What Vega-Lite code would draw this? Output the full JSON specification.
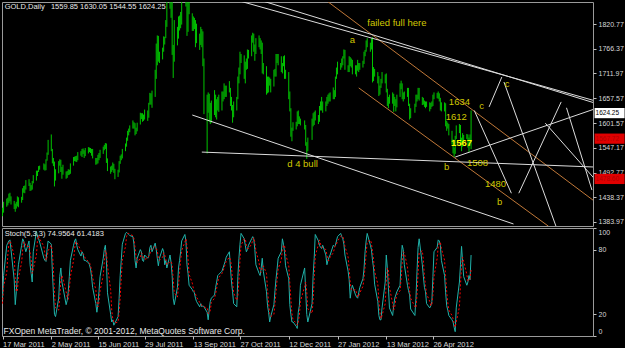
{
"$schema":"https://vega.github.io/schema/vega-lite/v6.json",
"background":"#000000",
"padding":{"left":0,"top":1,"right":0,"bottom":0},
"config":{"view":{"stroke":"#9a9a9a","strokeWidth":1},"concat":{"spacing":0},"font":"Liberation Sans","text":{"font":"Liberation Sans"},"axis":{"labelFont":"Liberation Sans","labelOverlap":false}},
"datasets":{
"gold":[
{"t":"2011-03-17","l":1396,"h":1415,"k":36,"s":30},
{"t":"2011-03-18","l":1404,"h":1428,"k":56,"s":46},
{"t":"2011-03-21","l":1417,"h":1435,"k":84,"s":59},
{"t":"2011-03-22","l":1420,"h":1437,"k":86,"s":75},
{"t":"2011-03-23","l":1425,"h":1446,"k":88,"s":86},
{"t":"2011-03-24","l":1429,"h":1448,"k":89,"s":88},
{"t":"2011-03-25","l":1422,"h":1440,"k":80,"s":86},
{"t":"2011-03-28","l":1412,"h":1430,"k":52,"s":74},
{"t":"2011-03-29","l":1406,"h":1424,"k":29,"s":54},
{"t":"2011-03-30","l":1413,"h":1428,"k":41,"s":41},
{"t":"2011-03-31","l":1418,"h":1440,"k":55,"s":42},
{"t":"2011-04-01","l":1416,"h":1438,"k":66,"s":54},
{"t":"2011-04-04","l":1426,"h":1439,"k":84,"s":68},
{"t":"2011-04-05","l":1432,"h":1458,"k":90,"s":80},
{"t":"2011-04-06","l":1448,"h":1463,"k":88,"s":87},
{"t":"2011-04-07","l":1447,"h":1464,"k":82,"s":87},
{"t":"2011-04-08","l":1455,"h":1476,"k":78,"s":83},
{"t":"2011-04-11","l":1463,"h":1478,"k":88,"s":83},
{"t":"2011-04-12","l":1452,"h":1470,"k":66,"s":77},
{"t":"2011-04-13","l":1453,"h":1465,"k":58,"s":71},
{"t":"2011-04-14","l":1455,"h":1474,"k":50,"s":58},
{"t":"2011-04-15","l":1469,"h":1487,"k":78,"s":62},
{"t":"2011-04-18","l":1475,"h":1497,"k":97,"s":75},
{"t":"2011-04-19","l":1485,"h":1497,"k":92,"s":89},
{"t":"2011-04-20","l":1494,"h":1507,"k":90,"s":93},
{"t":"2011-04-21","l":1499,"h":1508,"k":87,"s":90},
{"t":"2011-04-25","l":1499,"h":1513,"k":72,"s":83},
{"t":"2011-04-26","l":1497,"h":1511,"k":70,"s":76},
{"t":"2011-04-27","l":1498,"h":1522,"k":69,"s":70},
{"t":"2011-04-28","l":1519,"h":1537,"k":80,"s":73},
{"t":"2011-04-29","l":1532,"h":1565,"k":88,"s":79},
{"t":"2011-05-02","l":1540,"h":1577,"k":85,"s":84},
{"t":"2011-05-03","l":1513,"h":1545,"k":60,"s":78},
{"t":"2011-05-04","l":1507,"h":1525,"k":40,"s":62},
{"t":"2011-05-05","l":1462,"h":1517,"k":20,"s":40},
{"t":"2011-05-06","l":1475,"h":1500,"k":18,"s":26},
{"t":"2011-05-09","l":1491,"h":1518,"k":35,"s":24},
{"t":"2011-05-10","l":1508,"h":1522,"k":55,"s":36},
{"t":"2011-05-11","l":1494,"h":1521,"k":63,"s":51},
{"t":"2011-05-12","l":1479,"h":1505,"k":50,"s":56},
{"t":"2011-05-13","l":1488,"h":1510,"k":45,"s":53},
{"t":"2011-05-16","l":1479,"h":1495,"k":29,"s":41},
{"t":"2011-05-17","l":1481,"h":1496,"k":33,"s":36},
{"t":"2011-05-18","l":1487,"h":1500,"k":41,"s":34},
{"t":"2011-05-19","l":1488,"h":1499,"k":55,"s":43},
{"t":"2011-05-20","l":1490,"h":1513,"k":70,"s":55},
{"t":"2011-05-23","l":1508,"h":1527,"k":84,"s":70},
{"t":"2011-05-24","l":1518,"h":1528,"k":88,"s":81},
{"t":"2011-05-25","l":1517,"h":1529,"k":90,"s":87},
{"t":"2011-05-26","l":1516,"h":1530,"k":84,"s":87},
{"t":"2011-05-27","l":1520,"h":1538,"k":80,"s":85},
{"t":"2011-05-30","l":1530,"h":1540,"k":74,"s":79},
{"t":"2011-05-31","l":1527,"h":1545,"k":78,"s":77},
{"t":"2011-06-01","l":1534,"h":1546,"k":76,"s":76},
{"t":"2011-06-02","l":1525,"h":1542,"k":70,"s":75},
{"t":"2011-06-03","l":1529,"h":1547,"k":70,"s":72},
{"t":"2011-06-06","l":1535,"h":1549,"k":68,"s":69},
{"t":"2011-06-07","l":1538,"h":1548,"k":66,"s":68},
{"t":"2011-06-08","l":1536,"h":1547,"k":62,"s":65},
{"t":"2011-06-09","l":1530,"h":1545,"k":55,"s":61},
{"t":"2011-06-10","l":1524,"h":1545,"k":45,"s":54},
{"t":"2011-06-13","l":1510,"h":1525,"k":30,"s":43},
{"t":"2011-06-14","l":1511,"h":1525,"k":22,"s":32},
{"t":"2011-06-15","l":1513,"h":1532,"k":30,"s":27},
{"t":"2011-06-16","l":1520,"h":1536,"k":41,"s":31},
{"t":"2011-06-17","l":1525,"h":1543,"k":55,"s":42},
{"t":"2011-06-20","l":1534,"h":1550,"k":72,"s":56},
{"t":"2011-06-21","l":1542,"h":1554,"k":80,"s":69},
{"t":"2011-06-22","l":1545,"h":1558,"k":84,"s":79},
{"t":"2011-06-23","l":1514,"h":1557,"k":70,"s":78},
{"t":"2011-06-24","l":1496,"h":1524,"k":40,"s":65},
{"t":"2011-06-27","l":1490,"h":1506,"k":20,"s":43},
{"t":"2011-06-28","l":1494,"h":1508,"k":13,"s":24},
{"t":"2011-06-29","l":1498,"h":1515,"k":15,"s":16},
{"t":"2011-06-30","l":1492,"h":1512,"k":10,"s":13},
{"t":"2011-07-01","l":1478,"h":1501,"k":12,"s":12},
{"t":"2011-07-04","l":1483,"h":1499,"k":18,"s":13},
{"t":"2011-07-05","l":1493,"h":1518,"k":35,"s":22},
{"t":"2011-07-06","l":1512,"h":1530,"k":56,"s":36},
{"t":"2011-07-07","l":1520,"h":1533,"k":70,"s":54},
{"t":"2011-07-08","l":1524,"h":1545,"k":85,"s":70},
{"t":"2011-07-11","l":1540,"h":1557,"k":95,"s":83},
{"t":"2011-07-12","l":1550,"h":1570,"k":96,"s":92},
{"t":"2011-07-13","l":1563,"h":1585,"k":95,"s":95},
{"t":"2011-07-14","l":1575,"h":1590,"k":94,"s":95},
{"t":"2011-07-15","l":1582,"h":1597,"k":93,"s":94},
{"t":"2011-07-18","l":1590,"h":1608,"k":92,"s":93},
{"t":"2011-07-19","l":1590,"h":1604,"k":85,"s":90},
{"t":"2011-07-20","l":1575,"h":1602,"k":70,"s":82},
{"t":"2011-07-21","l":1578,"h":1592,"k":63,"s":73},
{"t":"2011-07-22","l":1584,"h":1603,"k":72,"s":68},
{"t":"2011-07-25","l":1599,"h":1625,"k":80,"s":72},
{"t":"2011-07-26","l":1611,"h":1624,"k":78,"s":77},
{"t":"2011-07-27","l":1605,"h":1624,"k":70,"s":76},
{"t":"2011-07-28","l":1607,"h":1621,"k":69,"s":72},
{"t":"2011-07-29","l":1610,"h":1632,"k":75,"s":71},
{"t":"2011-08-01","l":1607,"h":1630,"k":72,"s":72},
{"t":"2011-08-02","l":1614,"h":1647,"k":74,"s":74},
{"t":"2011-08-03","l":1643,"h":1669,"k":82,"s":76},
{"t":"2011-08-04","l":1643,"h":1668,"k":84,"s":80},
{"t":"2011-08-05","l":1636,"h":1674,"k":78,"s":81},
{"t":"2011-08-08","l":1660,"h":1720,"k":86,"s":83},
{"t":"2011-08-09","l":1700,"h":1778,"k":80,"s":81},
{"t":"2011-08-10","l":1730,"h":1796,"k":72,"s":79},
{"t":"2011-08-11","l":1738,"h":1795,"k":65,"s":72},
{"t":"2011-08-12","l":1735,"h":1760,"k":72,"s":70},
{"t":"2011-08-15","l":1743,"h":1769,"k":81,"s":73},
{"t":"2011-08-16","l":1760,"h":1794,"k":78,"s":77},
{"t":"2011-08-17","l":1776,"h":1793,"k":66,"s":75},
{"t":"2011-08-18","l":1790,"h":1830,"k":70,"s":71},
{"t":"2011-08-19","l":1815,"h":1878,"k":63,"s":66},
{"t":"2011-08-22","l":1855,"h":1912,"k":75,"s":69},
{"t":"2011-08-23","l":1835,"h":1905,"k":68,"s":69},
{"t":"2011-08-24","l":1753,"h":1870,"k":56,"s":66},
{"t":"2011-08-25","l":1702,"h":1775,"k":35,"s":53},
{"t":"2011-08-26","l":1738,"h":1830,"k":29,"s":40},
{"t":"2011-08-29","l":1774,"h":1815,"k":45,"s":36},
{"t":"2011-08-30","l":1789,"h":1838,"k":63,"s":46},
{"t":"2011-08-31","l":1807,"h":1840,"k":70,"s":59},
{"t":"2011-09-01","l":1812,"h":1848,"k":78,"s":70},
{"t":"2011-09-02","l":1820,"h":1883,"k":88,"s":79},
{"t":"2011-09-05","l":1870,"h":1900,"k":94,"s":87},
{"t":"2011-09-06","l":1860,"h":1921,"k":88,"s":90},
{"t":"2011-09-07","l":1795,"h":1874,"k":66,"s":83},
{"t":"2011-09-08","l":1804,"h":1869,"k":58,"s":71},
{"t":"2011-09-09","l":1843,"h":1875,"k":47,"s":57},
{"t":"2011-09-12","l":1806,"h":1845,"k":43,"s":49},
{"t":"2011-09-13","l":1806,"h":1838,"k":41,"s":44},
{"t":"2011-09-14","l":1810,"h":1835,"k":40,"s":41},
{"t":"2011-09-15","l":1770,"h":1830,"k":35,"s":39},
{"t":"2011-09-16","l":1779,"h":1822,"k":32,"s":36},
{"t":"2011-09-19","l":1764,"h":1800,"k":27,"s":31},
{"t":"2011-09-20","l":1775,"h":1815,"k":30,"s":30},
{"t":"2011-09-21","l":1770,"h":1810,"k":27,"s":28},
{"t":"2011-09-22","l":1728,"h":1805,"k":28,"s":28},
{"t":"2011-09-23","l":1622,"h":1745,"k":27,"s":27},
{"t":"2011-09-26","l":1535,"h":1665,"k":22,"s":26},
{"t":"2011-09-27","l":1625,"h":1670,"k":15,"s":21},
{"t":"2011-09-28","l":1605,"h":1667,"k":25,"s":21},
{"t":"2011-09-29","l":1600,"h":1647,"k":32,"s":24},
{"t":"2011-09-30","l":1603,"h":1652,"k":35,"s":31},
{"t":"2011-10-03","l":1620,"h":1675,"k":38,"s":35},
{"t":"2011-10-04","l":1615,"h":1665,"k":45,"s":39},
{"t":"2011-10-05","l":1610,"h":1655,"k":50,"s":44},
{"t":"2011-10-06","l":1630,"h":1660,"k":56,"s":50},
{"t":"2011-10-07","l":1627,"h":1665,"k":57,"s":54},
{"t":"2011-10-10","l":1630,"h":1672,"k":60,"s":58},
{"t":"2011-10-11","l":1650,"h":1672,"k":63,"s":60},
{"t":"2011-10-12","l":1655,"h":1690,"k":66,"s":63},
{"t":"2011-10-13","l":1660,"h":1685,"k":69,"s":66},
{"t":"2011-10-14","l":1660,"h":1685,"k":73,"s":69},
{"t":"2011-10-17","l":1670,"h":1695,"k":78,"s":73},
{"t":"2011-10-18","l":1640,"h":1680,"k":63,"s":71},
{"t":"2011-10-19","l":1630,"h":1660,"k":50,"s":64},
{"t":"2011-10-20","l":1603,"h":1642,"k":41,"s":51},
{"t":"2011-10-21","l":1615,"h":1650,"k":30,"s":40},
{"t":"2011-10-24","l":1630,"h":1660,"k":27,"s":33},
{"t":"2011-10-25","l":1655,"h":1705,"k":55,"s":37},
{"t":"2011-10-26","l":1690,"h":1725,"k":72,"s":51},
{"t":"2011-10-27","l":1710,"h":1760,"k":85,"s":71},
{"t":"2011-10-28","l":1735,"h":1755,"k":95,"s":84},
{"t":"2011-10-31","l":1700,"h":1752,"k":90,"s":90},
{"t":"2011-11-01","l":1690,"h":1738,"k":84,"s":90},
{"t":"2011-11-02","l":1720,"h":1745,"k":78,"s":84},
{"t":"2011-11-03","l":1722,"h":1765,"k":80,"s":81},
{"t":"2011-11-04","l":1745,"h":1764,"k":84,"s":81},
{"t":"2011-11-07","l":1750,"h":1796,"k":90,"s":85},
{"t":"2011-11-08","l":1780,"h":1802,"k":92,"s":89},
{"t":"2011-11-09","l":1760,"h":1800,"k":90,"s":91},
{"t":"2011-11-10","l":1740,"h":1776,"k":80,"s":87},
{"t":"2011-11-11","l":1755,"h":1790,"k":66,"s":79},
{"t":"2011-11-14","l":1770,"h":1796,"k":58,"s":68},
{"t":"2011-11-15","l":1765,"h":1790,"k":56,"s":60},
{"t":"2011-11-16","l":1755,"h":1785,"k":63,"s":59},
{"t":"2011-11-17","l":1712,"h":1780,"k":72,"s":64},
{"t":"2011-11-18","l":1710,"h":1735,"k":60,"s":65},
{"t":"2011-11-21","l":1665,"h":1728,"k":41,"s":58},
{"t":"2011-11-22","l":1668,"h":1705,"k":28,"s":43},
{"t":"2011-11-23","l":1670,"h":1705,"k":22,"s":30},
{"t":"2011-11-24","l":1685,"h":1703,"k":13,"s":21},
{"t":"2011-11-25","l":1670,"h":1700,"k":18,"s":18},
{"t":"2011-11-28","l":1683,"h":1720,"k":29,"s":20},
{"t":"2011-11-29","l":1705,"h":1722,"k":42,"s":30},
{"t":"2011-11-30","l":1705,"h":1755,"k":53,"s":41},
{"t":"2011-12-01","l":1735,"h":1755,"k":62,"s":52},
{"t":"2011-12-02","l":1730,"h":1755,"k":72,"s":62},
{"t":"2011-12-05","l":1715,"h":1750,"k":78,"s":71},
{"t":"2011-12-06","l":1712,"h":1735,"k":90,"s":80},
{"t":"2011-12-07","l":1728,"h":1750,"k":85,"s":84},
{"t":"2011-12-08","l":1700,"h":1752,"k":78,"s":84},
{"t":"2011-12-09","l":1700,"h":1720,"k":65,"s":76},
{"t":"2011-12-12","l":1655,"h":1715,"k":53,"s":65},
{"t":"2011-12-13","l":1628,"h":1672,"k":29,"s":49},
{"t":"2011-12-14","l":1572,"h":1635,"k":20,"s":34},
{"t":"2011-12-15","l":1562,"h":1592,"k":13,"s":21},
{"t":"2011-12-16","l":1585,"h":1604,"k":13,"s":15},
{"t":"2011-12-19","l":1588,"h":1605,"k":9,"s":12},
{"t":"2011-12-20","l":1595,"h":1628,"k":7,"s":10},
{"t":"2011-12-21","l":1600,"h":1630,"k":22,"s":13},
{"t":"2011-12-22","l":1600,"h":1617,"k":28,"s":19},
{"t":"2011-12-23","l":1597,"h":1612,"k":47,"s":32},
{"t":"2011-12-27","l":1588,"h":1608,"k":63,"s":46},
{"t":"2011-12-28","l":1552,"h":1598,"k":41,"s":50},
{"t":"2011-12-29","l":1523,"h":1560,"k":20,"s":41},
{"t":"2011-12-30","l":1540,"h":1570,"k":13,"s":25},
{"t":"2012-01-03","l":1565,"h":1612,"k":30,"s":21},
{"t":"2012-01-04","l":1595,"h":1624,"k":56,"s":33},
{"t":"2012-01-05","l":1598,"h":1627,"k":72,"s":53},
{"t":"2012-01-06","l":1608,"h":1630,"k":94,"s":74},
{"t":"2012-01-09","l":1600,"h":1620,"k":88,"s":85},
{"t":"2012-01-10","l":1605,"h":1640,"k":84,"s":89},
{"t":"2012-01-11","l":1630,"h":1650,"k":82,"s":85},
{"t":"2012-01-12","l":1630,"h":1660,"k":81,"s":82},
{"t":"2012-01-13","l":1625,"h":1650,"k":84,"s":82},
{"t":"2012-01-16","l":1628,"h":1650,"k":75,"s":80},
{"t":"2012-01-17","l":1640,"h":1660,"k":66,"s":75},
{"t":"2012-01-18","l":1645,"h":1665,"k":70,"s":70},
{"t":"2012-01-19","l":1650,"h":1668,"k":73,"s":70},
{"t":"2012-01-20","l":1650,"h":1670,"k":75,"s":73},
{"t":"2012-01-23","l":1655,"h":1681,"k":84,"s":77},
{"t":"2012-01-24","l":1655,"h":1675,"k":83,"s":81},
{"t":"2012-01-25","l":1660,"h":1705,"k":84,"s":84},
{"t":"2012-01-26","l":1700,"h":1725,"k":88,"s":85},
{"t":"2012-01-27","l":1710,"h":1738,"k":92,"s":88},
{"t":"2012-01-30","l":1720,"h":1735,"k":95,"s":92},
{"t":"2012-01-31","l":1725,"h":1745,"k":92,"s":93},
{"t":"2012-02-01","l":1730,"h":1750,"k":90,"s":92},
{"t":"2012-02-02","l":1745,"h":1765,"k":85,"s":89},
{"t":"2012-02-03","l":1720,"h":1764,"k":75,"s":83},
{"t":"2012-02-06","l":1715,"h":1730,"k":60,"s":73},
{"t":"2012-02-07","l":1715,"h":1750,"k":52,"s":62},
{"t":"2012-02-08","l":1728,"h":1748,"k":35,"s":49},
{"t":"2012-02-09","l":1725,"h":1745,"k":43,"s":43},
{"t":"2012-02-10","l":1710,"h":1742,"k":47,"s":42},
{"t":"2012-02-13","l":1710,"h":1730,"k":38,"s":43},
{"t":"2012-02-14","l":1705,"h":1730,"k":36,"s":40},
{"t":"2012-02-15","l":1718,"h":1742,"k":35,"s":36},
{"t":"2012-02-16","l":1715,"h":1735,"k":40,"s":37},
{"t":"2012-02-17","l":1720,"h":1735,"k":45,"s":40},
{"t":"2012-02-20","l":1725,"h":1740,"k":53,"s":46},
{"t":"2012-02-21","l":1733,"h":1760,"k":62,"s":53},
{"t":"2012-02-22","l":1750,"h":1764,"k":78,"s":64},
{"t":"2012-02-23","l":1760,"h":1785,"k":88,"s":76},
{"t":"2012-02-24","l":1770,"h":1790,"k":95,"s":87},
{"t":"2012-02-27","l":1760,"h":1780,"k":84,"s":89},
{"t":"2012-02-28","l":1765,"h":1790,"k":80,"s":86},
{"t":"2012-02-29","l":1692,"h":1792,"k":70,"s":78},
{"t":"2012-03-01","l":1695,"h":1726,"k":63,"s":71},
{"t":"2012-03-02","l":1705,"h":1722,"k":48,"s":60},
{"t":"2012-03-05","l":1690,"h":1715,"k":32,"s":48},
{"t":"2012-03-06","l":1662,"h":1706,"k":19,"s":33},
{"t":"2012-03-07","l":1665,"h":1685,"k":15,"s":22},
{"t":"2012-03-08","l":1680,"h":1700,"k":15,"s":16},
{"t":"2012-03-09","l":1690,"h":1715,"k":26,"s":19},
{"t":"2012-03-12","l":1690,"h":1710,"k":50,"s":30},
{"t":"2012-03-13","l":1670,"h":1712,"k":75,"s":50},
{"t":"2012-03-14","l":1640,"h":1678,"k":63,"s":63},
{"t":"2012-03-15","l":1635,"h":1660,"k":45,"s":61},
{"t":"2012-03-16","l":1645,"h":1665,"k":26,"s":45},
{"t":"2012-03-19","l":1645,"h":1670,"k":19,"s":30},
{"t":"2012-03-20","l":1627,"h":1667,"k":28,"s":24},
{"t":"2012-03-21","l":1640,"h":1660,"k":35,"s":27},
{"t":"2012-03-22","l":1628,"h":1655,"k":38,"s":34},
{"t":"2012-03-23","l":1637,"h":1665,"k":41,"s":38},
{"t":"2012-03-26","l":1660,"h":1690,"k":47,"s":42},
{"t":"2012-03-27","l":1677,"h":1696,"k":70,"s":53},
{"t":"2012-03-28","l":1655,"h":1690,"k":84,"s":67},
{"t":"2012-03-29","l":1650,"h":1670,"k":80,"s":78},
{"t":"2012-03-30","l":1655,"h":1672,"k":66,"s":77},
{"t":"2012-04-02","l":1660,"h":1680,"k":47,"s":64},
{"t":"2012-04-03","l":1640,"h":1680,"k":42,"s":52},
{"t":"2012-04-04","l":1610,"h":1645,"k":38,"s":42},
{"t":"2012-04-05","l":1613,"h":1635,"k":25,"s":35},
{"t":"2012-04-09","l":1625,"h":1645,"k":19,"s":27},
{"t":"2012-04-10","l":1638,"h":1665,"k":35,"s":26},
{"t":"2012-04-11","l":1650,"h":1665,"k":60,"s":38},
{"t":"2012-04-12","l":1655,"h":1680,"k":82,"s":59},
{"t":"2012-04-13","l":1652,"h":1680,"k":90,"s":77},
{"t":"2012-04-16","l":1642,"h":1660,"k":66,"s":79},
{"t":"2012-04-17","l":1643,"h":1658,"k":55,"s":70},
{"t":"2012-04-18","l":1638,"h":1652,"k":45,"s":55},
{"t":"2012-04-19","l":1635,"h":1650,"k":41,"s":47},
{"t":"2012-04-20","l":1638,"h":1650,"k":30,"s":39},
{"t":"2012-04-23","l":1628,"h":1648,"k":26,"s":32},
{"t":"2012-04-24","l":1633,"h":1647,"k":28,"s":28},
{"t":"2012-04-25","l":1638,"h":1650,"k":32,"s":29},
{"t":"2012-04-26","l":1640,"h":1665,"k":55,"s":38},
{"t":"2012-04-27","l":1655,"h":1670,"k":78,"s":55},
{"t":"2012-04-30","l":1657,"h":1669,"k":82,"s":72},
{"t":"2012-05-01","l":1656,"h":1672,"k":89,"s":83},
{"t":"2012-05-02","l":1650,"h":1668,"k":88,"s":86},
{"t":"2012-05-03","l":1630,"h":1658,"k":84,"s":87},
{"t":"2012-05-04","l":1628,"h":1648,"k":70,"s":81},
{"t":"2012-05-07","l":1628,"h":1648,"k":56,"s":70},
{"t":"2012-05-08","l":1595,"h":1646,"k":40,"s":55},
{"t":"2012-05-09","l":1585,"h":1607,"k":28,"s":41},
{"t":"2012-05-10","l":1590,"h":1603,"k":24,"s":31},
{"t":"2012-05-11","l":1575,"h":1600,"k":19,"s":24},
{"t":"2012-05-14","l":1555,"h":1585,"k":15,"s":19},
{"t":"2012-05-15","l":1535,"h":1566,"k":13,"s":16},
{"t":"2012-05-16","l":1527,"h":1548,"k":8,"s":12},
{"t":"2012-05-17","l":1534,"h":1574,"k":4,"s":8},
{"t":"2012-05-18","l":1567,"h":1597,"k":26,"s":13},
{"t":"2012-05-21","l":1580,"h":1600,"k":50,"s":27},
{"t":"2012-05-22","l":1560,"h":1598,"k":66,"s":47},
{"t":"2012-05-23","l":1540,"h":1570,"k":83,"s":66},
{"t":"2012-05-24","l":1550,"h":1580,"k":69,"s":73},
{"t":"2012-05-25","l":1560,"h":1576,"k":55,"s":69},
{"t":"2012-05-28","l":1567,"h":1578,"k":47,"s":57},
{"t":"2012-05-29","l":1548,"h":1577,"k":50,"s":51},
{"t":"2012-05-30","l":1538,"h":1570,"k":56,"s":51},
{"t":"2012-05-31","l":1552,"h":1577,"k":52,"s":53},
{"t":"2012-06-01","l":1544.55,"h":1630.05,"k":74.96,"s":61.42}
],
"wl":[
{"g":"A","t":"2011-10-24","p":1874},{"g":"A","t":"2012-09-25","p":1652},
{"g":"B","t":"2011-11-15","p":1874},{"g":"B","t":"2012-09-25","p":1647},
{"g":"C","t":"2011-09-12","p":1620},{"g":"C","t":"2012-07-11","p":1379},
{"g":"D","t":"2011-09-21","p":1538},{"g":"D","t":"2012-09-25","p":1505},
{"g":"E","t":"2012-05-17","p":1527},{"g":"E","t":"2012-09-25","p":1633},
{"g":"F","t":"2012-06-04","p":1630},{"g":"F","t":"2012-07-09","p":1447},
{"g":"G","t":"2012-06-18","p":1638},{"g":"G","t":"2012-06-30","p":1704},
{"g":"H","t":"2012-07-02","p":1693},{"g":"H","t":"2012-08-23","p":1355},
{"g":"I","t":"2012-07-16","p":1447},{"g":"I","t":"2012-08-25","p":1649},
{"g":"J","t":"2012-08-10","p":1602},{"g":"J","t":"2012-09-25","p":1480},
{"g":"K","t":"2012-08-30","p":1636},{"g":"K","t":"2012-09-23","p":1454}
],
"ol":[
{"g":"a","t":"2012-01-16","p":1874},{"g":"a","t":"2012-09-25","p":1430},
{"g":"b","t":"2012-02-16","p":1680},{"g":"b","t":"2012-08-13","p":1374}
],
"notes":[
{"t":"2012-03-23","p":1823,"s":"failed full here"},
{"t":"2012-02-10","p":1786,"s":"a"},
{"t":"2011-12-25","p":1512,"s":"d 4 bull"},
{"t":"2012-05-09","p":1505,"s":"b"},
{"t":"2012-05-21","p":1649,"s":"1634"},
{"t":"2012-06-11","p":1640,"s":"c"},
{"t":"2012-05-18","p":1616,"s":"1612"},
{"t":"2012-06-07","p":1514,"s":"1508"},
{"t":"2012-06-24","p":1467,"s":"1480"},
{"t":"2012-06-28","p":1428,"s":"b"},
{"t":"2012-07-05","p":1689,"s":"c"}
],
"bold":[{"t":"2012-05-23","p":1558,"s":"1567"}],
"hdr":[{"t":"2011-03-19","p":1859,"s":"GOLD,Daily\u00a0\u00a0\u00a01559.85 1630.05 1544.55 1624.25"}],
"stl":[
{"t":"2011-03-19","v":94,"s":"Stoch(5,3,3) 74.9564 61.4183","kind":"ind"},
{"t":"2011-03-18","v":5,"s":"FXOpen MetaTrader, © 2001-2012, MetaQuotes Software Corp.","kind":"fx"}
],
"tags":[
{"p":1624.25,"label":"1624.25","kind":"bid"},
{"p":1567.72,"label":"1567.72","kind":"lvl"},
{"p":1478.6,"label":"1478.60","kind":"lvl"}
]
},
"vconcat":[
{
"width":591,"height":224,
"resolve":{"axis":{"x":"independent","y":"independent"}},
"layer":[
{"data":{"name":"gold"},"mark":{"type":"rule","color":"#00c400","strokeWidth":1,"clip":true},
 "encoding":{
  "x":{"field":"t","type":"temporal","scale":{"type":"utc","domain":[{"year":2011,"month":3,"date":16,"hours":12,"utc":true},{"year":2012,"month":9,"date":24,"utc":true}]},"axis":null},
  "y":{"field":"l","type":"quantitative","scale":{"domain":[1374.5,1870],"zero":false,"nice":false},
   "axis":{"orient":"right","values":[1820.77,1766.37,1711.97,1657.57,1601.57,1547.17,1492.77,1438.37,1383.97],"format":".2f","title":null,"labelFontSize":7,"labelColor":"#d8d8d8","tickColor":"#c0c0c0","tickSize":3,"labelPadding":2,"domain":false,"grid":false,"labelOverlap":false,"labelFlush":false}},
  "y2":{"field":"h"}}},
{"mark":{"type":"rule","color":"#4f5858","strokeWidth":2},"encoding":{"y":{"datum":1624.25,"type":"quantitative","axis":null}}},
{"mark":{"type":"rule","color":"#b0103c","strokeWidth":1},"encoding":{"y":{"datum":1567.72,"type":"quantitative","axis":null}}},
{"mark":{"type":"rule","color":"#b0103c","strokeWidth":1},"encoding":{"y":{"datum":1478.6,"type":"quantitative","axis":null}}},
{"data":{"name":"ol"},"mark":{"type":"line","color":"#c07838","strokeWidth":1,"clip":true},
 "encoding":{"x":{"field":"t","type":"temporal","axis":null},"y":{"field":"p","type":"quantitative","axis":null},"detail":{"field":"g"}}},
{"data":{"name":"wl"},"mark":{"type":"line","color":"#dcdcdc","strokeWidth":1,"clip":true},
 "encoding":{"x":{"field":"t","type":"temporal","axis":null},"y":{"field":"p","type":"quantitative","axis":null},"detail":{"field":"g"}}},
{"data":{"name":"notes"},"mark":{"type":"text","color":"#d0c800","fontSize":9.5,"align":"center","baseline":"middle"},
 "encoding":{"x":{"field":"t","type":"temporal","axis":null},"y":{"field":"p","type":"quantitative","axis":null},"text":{"field":"s"}}},
{"data":{"name":"bold"},"mark":{"type":"text","color":"#ffff00","fontSize":9.5,"fontWeight":"bold","align":"center","baseline":"middle"},
 "encoding":{"x":{"field":"t","type":"temporal","axis":null},"y":{"field":"p","type":"quantitative","axis":null},"text":{"field":"s"}}},
{"data":{"name":"hdr"},"mark":{"type":"text","color":"#e8e8e8","fontSize":7.5,"align":"left","baseline":"middle"},
 "encoding":{"x":{"field":"t","type":"temporal","axis":null},"y":{"field":"p","type":"quantitative","axis":null},"text":{"field":"s"}}},
{"data":{"name":"tags"},"mark":{"type":"point","shape":"M0,-0.34H2V0.34H0Z","size":900,"filled":true,"opacity":1,"strokeWidth":0},
 "encoding":{"x":{"datum":{"year":2012,"month":9,"date":25,"hours":12,"utc":true},"type":"temporal","axis":null},"y":{"field":"p","type":"quantitative","axis":null},
  "color":{"condition":{"test":"datum.kind==='bid'","value":"#ffffff"},"value":"#e00000"}}},
{"data":{"name":"tags"},"mark":{"type":"text","align":"left","baseline":"middle","fontSize":6.5,"dx":1},
 "encoding":{"x":{"datum":{"year":2012,"month":9,"date":25,"hours":12,"utc":true},"type":"temporal","axis":null},"y":{"field":"p","type":"quantitative","axis":null},"text":{"field":"label"},
  "color":{"condition":{"test":"datum.kind==='bid'","value":"#000000"},"value":"#b00000"}}}
]
},
{
"width":591,"height":108,
"resolve":{"axis":{"x":"independent","y":"independent"}},
"layer":[
{"data":{"name":"gold"},"mark":{"type":"line","color":"#20b2aa","strokeWidth":1},
 "encoding":{
  "x":{"field":"t","type":"temporal","scale":{"type":"utc","domain":[{"year":2011,"month":3,"date":16,"hours":12,"utc":true},{"year":2012,"month":9,"date":24,"utc":true}]},
   "axis":{"orient":"bottom","values":[{"year":2011,"month":3,"date":17,"utc":true},{"year":2011,"month":5,"date":2,"utc":true},{"year":2011,"month":6,"date":15,"utc":true},{"year":2011,"month":7,"date":29,"utc":true},{"year":2011,"month":9,"date":13,"utc":true},{"year":2011,"month":10,"date":27,"utc":true},{"year":2011,"month":12,"date":12,"utc":true},{"year":2012,"month":1,"date":27,"utc":true},{"year":2012,"month":3,"date":13,"utc":true},{"year":2012,"month":4,"date":26,"utc":true}],
    "format":"%-d %b %Y","title":null,"labelAlign":"left","labelBaseline":"top","labelPadding":1,"tickSize":3,"labelFontSize":7.5,"labelColor":"#d8d8d8","tickColor":"#c0c0c0","domain":false,"grid":false,"labelOverlap":false,"labelFlush":false}},
  "y":{"field":"k","type":"quantitative","scale":{"domain":[0,100],"nice":false,"zero":false},
   "axis":{"orient":"right","values":[0.3,20,80,100],"format":"d","title":null,"labelFontSize":7,"labelColor":"#d8d8d8","tickColor":"#c0c0c0","tickSize":3,"labelPadding":2,"domain":false,"grid":false,"labelFlush":false,"labelOverlap":false,"labelBound":false,
    "labelOffset":{"condition":[{"test":"datum.value >= 100","value":4},{"test":"datum.value <= 1","value":-4}],"value":0}}}}},
{"data":{"name":"gold"},"mark":{"type":"line","color":"#ff0000","strokeWidth":1,"strokeDash":[2,2]},
 "encoding":{"x":{"field":"t","type":"temporal","axis":null},"y":{"field":"s","type":"quantitative","axis":null}}},
{"mark":{"type":"rule","color":"#c0c0c0","strokeWidth":1,"strokeDash":[2,2]},"encoding":{"y":{"datum":80,"type":"quantitative","axis":null}}},
{"mark":{"type":"rule","color":"#c0c0c0","strokeWidth":1,"strokeDash":[2,2]},"encoding":{"y":{"datum":20,"type":"quantitative","axis":null}}},
{"data":{"name":"stl"},"mark":{"type":"text","color":"#e8e8e8","align":"left","baseline":"middle"},
 "encoding":{"x":{"field":"t","type":"temporal","axis":null},"y":{"field":"v","type":"quantitative","axis":null},"text":{"field":"s"},
  "size":{"condition":{"test":"datum.kind==='fx'","value":8.5},"value":7.5}}}
]
}
]
}
